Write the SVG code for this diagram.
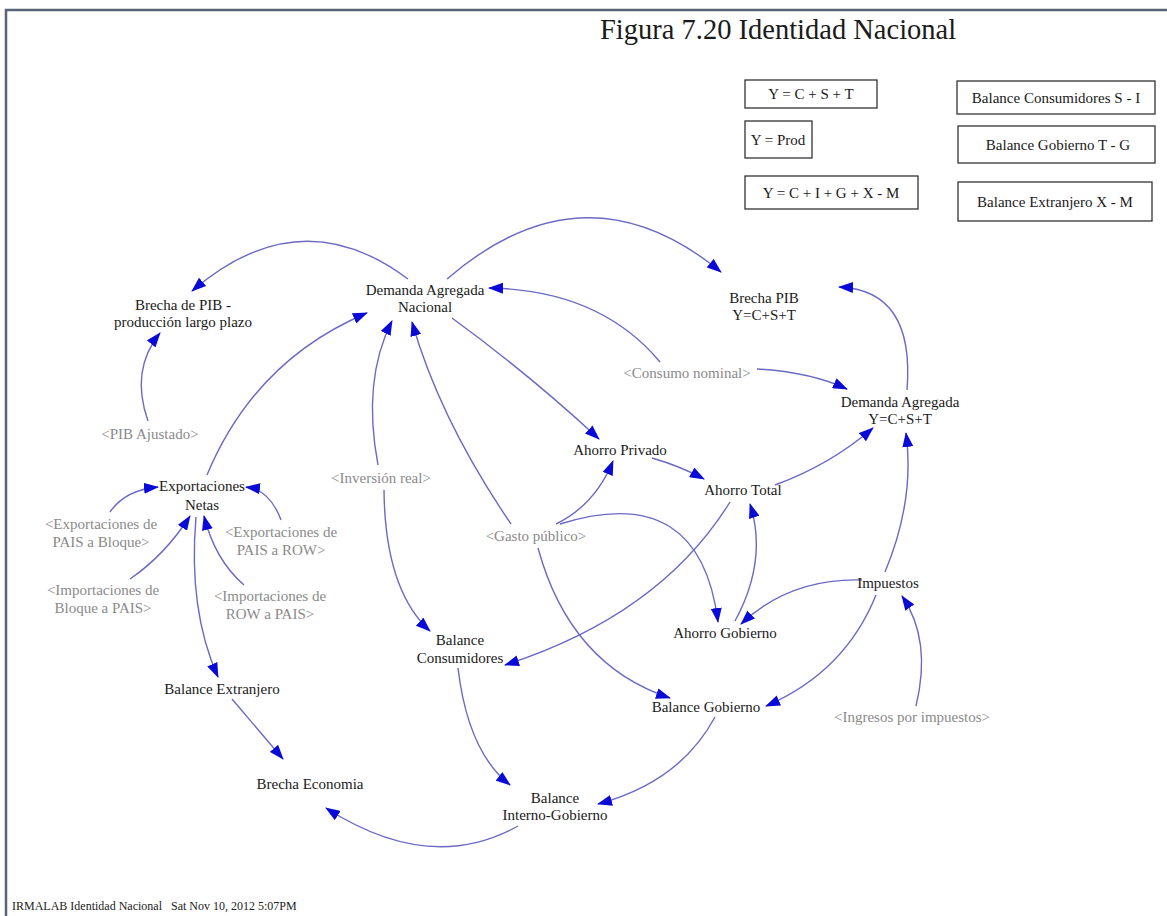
<svg xmlns="http://www.w3.org/2000/svg" width="1167" height="916" viewBox="0 0 1167 916">
<defs>
<marker id="ah" markerWidth="15" markerHeight="11" refX="14" refY="5.5" orient="auto" markerUnits="userSpaceOnUse">
<path d="M0,0 L15,5.5 L0,11 Z" fill="#0a0ad8"/>
</marker>
<style>
.t{font-family:"Liberation Serif",serif;font-size:15px;fill:#1a1a1a;text-anchor:middle}
.g{font-family:"Liberation Serif",serif;font-size:15px;fill:#8a8a8a;text-anchor:middle}
.b{font-family:"Liberation Serif",serif;font-size:15px;fill:#1a1a1a;text-anchor:middle}
.box{fill:#fff;stroke:#333;stroke-width:1.3}
.e{fill:none;stroke:#6a6ac4;stroke-width:1.4;marker-end:url(#ah)}
</style>
</defs>
<rect width="1167" height="916" fill="#fff"/>
<path d="M6,916 V10 H1167" fill="none" stroke="#5a6478" stroke-width="2.5"/>
<text x="600" y="39" font-family="Liberation Serif,serif" font-size="28.5" fill="#1a1a1a">Figura 7.20 Identidad Nacional</text>

<g id="legend">
<g id="box1"><rect class="box" x="745" y="80" width="132" height="28"/><text class="b" x="811" y="99">Y = C + S + T</text></g>
<g id="box2"><rect class="box" x="745" y="121" width="67" height="37"/><text class="b" x="778" y="145">Y = Prod</text></g>
<g id="box3"><rect class="box" x="745" y="176" width="173" height="33"/><text class="b" x="831" y="198">Y = C + I + G + X - M</text></g>
<g id="box4"><rect class="box" x="957" y="81" width="198" height="33"/><text class="b" x="1056" y="103">Balance Consumidores S - I</text></g>
<g id="box5"><rect class="box" x="958" y="126" width="197" height="37"/><text class="b" x="1058" y="150">Balance Gobierno T - G</text></g>
<g id="box6"><rect class="box" x="958" y="182" width="194" height="39"/><text class="b" x="1055" y="207">Balance Extranjero X - M</text></g>
</g>

<g id="connectors">
<path class="e" d="M408,279 Q300,198 192,291"/>
<path class="e" d="M447,279 Q585,160 721,272"/>
<path class="e" d="M148,421 Q130,370 160,333"/>
<path class="e" d="M207,475 Q255,360 367,313"/>
<path class="e" d="M660,362 Q600,290 489,288"/>
<path class="e" d="M757,369 Q810,372 847,389"/>
<path class="e" d="M907,390 Q915,290 839,287"/>
<path class="e" d="M452,318 Q530,375 599,439"/>
<path class="e" d="M378,465 Q362,380 392,321"/>
<path class="e" d="M384,490 Q385,590 430,631"/>
<path class="e" d="M511,524 Q440,420 412,322"/>
<path class="e" d="M556,524 Q595,505 613,461"/>
<path class="e" d="M652,458 Q680,466 704,479"/>
<path class="e" d="M775,485 Q830,465 873,428"/>
<path class="e" d="M560,524 Q700,480 718,622"/>
<path class="e" d="M538,548 Q570,665 670,698"/>
<path class="e" d="M730,502 Q660,615 505,665"/>
<path class="e" d="M735,621 Q768,560 750,504"/>
<path class="e" d="M862,580 Q790,578 741,624"/>
<path class="e" d="M885,572 Q915,500 906,433"/>
<path class="e" d="M876,595 Q845,672 766,706"/>
<path class="e" d="M916,706 Q932,640 902,596"/>
<path class="e" d="M196,517 Q188,610 218,677"/>
<path class="e" d="M110,512 Q125,490 158,487"/>
<path class="e" d="M281,520 Q270,490 246,487"/>
<path class="e" d="M130,579 Q165,555 190,516"/>
<path class="e" d="M244,585 Q215,560 204,516"/>
<path class="e" d="M232,699 L283,759"/>
<path class="e" d="M458,668 Q468,752 510,785"/>
<path class="e" d="M715,717 Q680,782 598,804"/>
<path class="e" d="M518,826 Q430,875 326,808"/>
</g>

<g id="n_brecha_pib_lp"><text class="t" x="183" y="310">Brecha de PIB -</text><text class="t" x="183" y="327">producción largo plazo</text></g>
<g id="n_dan"><text class="t" x="425" y="295">Demanda Agregada</text><text class="t" x="425" y="312">Nacional</text></g>
<g id="n_brecha_pib"><text class="t" x="764" y="303">Brecha PIB</text><text class="t" x="764" y="320">Y=C+S+T</text></g>
<g id="n_consumo"><text class="g" x="687" y="378">&lt;Consumo nominal&gt;</text></g>
<g id="n_da"><text class="t" x="900" y="407">Demanda Agregada</text><text class="t" x="900" y="424">Y=C+S+T</text></g>
<g id="n_pib_aj"><text class="g" x="150" y="439">&lt;PIB Ajustado&gt;</text></g>
<g id="n_ahorro_priv"><text class="t" x="620" y="455">Ahorro Privado</text></g>
<g id="n_inversion"><text class="g" x="381" y="483">&lt;Inversión real&gt;</text></g>
<g id="n_ahorro_total"><text class="t" x="743" y="495">Ahorro Total</text></g>
<g id="n_export"><text class="t" x="202" y="491">Exportaciones</text><text class="t" x="202" y="510">Netas</text></g>
<g id="n_exp_bloque"><text class="g" x="101" y="529">&lt;Exportaciones de</text><text class="g" x="101" y="547">PAIS a Bloque&gt;</text></g>
<g id="n_exp_row"><text class="g" x="281" y="537">&lt;Exportaciones de</text><text class="g" x="281" y="555">PAIS a ROW&gt;</text></g>
<g id="n_gasto"><text class="g" x="536" y="541">&lt;Gasto público&gt;</text></g>
<g id="n_imp_bloque"><text class="g" x="103" y="595">&lt;Importaciones de</text><text class="g" x="103" y="613">Bloque a PAIS&gt;</text></g>
<g id="n_imp_row"><text class="g" x="270" y="601">&lt;Importaciones de</text><text class="g" x="270" y="619">ROW a PAIS&gt;</text></g>
<g id="n_impuestos"><text class="t" x="888" y="588">Impuestos</text></g>
<g id="n_ahorro_gob"><text class="t" x="725" y="638">Ahorro Gobierno</text></g>
<g id="n_bal_cons"><text class="t" x="460" y="645">Balance</text><text class="t" x="460" y="663">Consumidores</text></g>
<g id="n_bal_ext"><text class="t" x="222" y="694">Balance Extranjero</text></g>
<g id="n_bal_gob"><text class="t" x="706" y="712">Balance Gobierno</text></g>
<g id="n_ingresos"><text class="g" x="912" y="722">&lt;Ingresos por impuestos&gt;</text></g>
<g id="n_brecha_eco"><text class="t" x="310" y="789">Brecha Economia</text></g>
<g id="n_bal_int"><text class="t" x="555" y="803">Balance</text><text class="t" x="555" y="820">Interno-Gobierno</text></g>

<text x="12" y="910" font-family="Liberation Serif,serif" font-size="12" fill="#222" xml:space="preserve">IRMALAB Identidad Nacional   Sat Nov 10, 2012 5:07PM</text>
</svg>
